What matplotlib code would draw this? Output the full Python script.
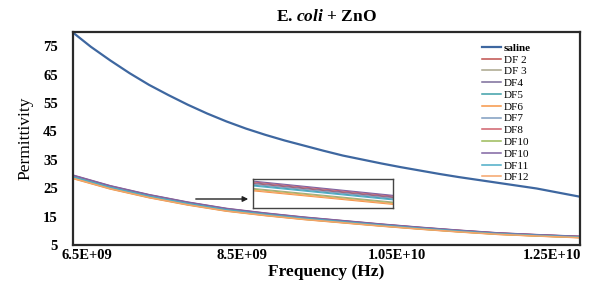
import matplotlib
matplotlib.use("Agg")
import matplotlib.pyplot as plt

# saline curve, read finely (GHz)
saline_ghz = [6.32, 6.55, 6.8, 7.05, 7.3, 7.55, 7.8, 8.05, 8.3, 8.55, 8.8, 9.05, 9.3, 9.55,
              9.8, 10.05, 10.3, 10.55, 10.8, 11.05, 11.3, 11.55, 11.8, 12.05, 12.3, 12.55, 12.86]
saline = [79.8, 74.8, 70.0, 65.5, 61.4, 57.8, 54.4, 51.3, 48.5, 46.0, 43.8, 41.8, 40.0, 38.2,
          36.5, 35.1, 33.7, 32.4, 31.2, 30.0, 28.9, 27.9, 26.9, 25.9, 24.9, 23.6, 22.0]

# DF curves (GHz)
freq_ghz = [6.32, 6.8, 7.3, 7.8, 8.3, 8.8, 9.3, 9.8, 10.3, 10.8, 11.3, 11.8, 12.3, 12.86]
df2 = [29.3, 25.59, 22.47, 19.86, 17.64, 16.03, 14.61, 13.40, 12.18, 11.07, 10.05, 9.14, 8.53, 7.92]
df3 = [28.7, 25.02, 21.93, 19.35, 17.16, 15.58, 14.19, 13.01, 11.82, 10.74, 9.75, 8.87, 8.27, 7.68]
df4 = [29.4, 25.68, 22.56, 19.94, 17.72, 16.10, 14.68, 13.46, 12.24, 11.12, 10.10, 9.18, 8.57, 7.96]
df5 = [29.1, 25.40, 22.29, 19.69, 17.48, 15.88, 14.47, 13.27, 12.06, 10.96, 9.95, 9.05, 8.44, 7.84]
df6 = [28.4, 24.73, 21.66, 19.09, 16.92, 15.35, 13.98, 12.81, 11.64, 10.57, 9.60, 8.73, 8.15, 7.56]
df7 = [29.2, 25.49, 22.38, 19.77, 17.56, 15.95, 14.54, 13.33, 12.12, 11.01, 10.00, 9.09, 8.48, 7.88]
df8 = [29.5, 25.78, 22.65, 20.03, 17.80, 16.18, 14.75, 13.53, 12.30, 11.18, 10.15, 9.23, 8.61, 8.00]
df10a = [28.6, 24.92, 21.84, 19.26, 17.08, 15.50, 14.12, 12.94, 11.76, 10.68, 9.70, 8.82, 8.23, 7.64]
df10b = [29.6, 25.87, 22.74, 20.11, 17.88, 16.25, 14.82, 13.59, 12.36, 11.23, 10.20, 9.27, 8.65, 8.04]
df11 = [29.0, 25.30, 22.20, 19.60, 17.40, 15.80, 14.40, 13.20, 12.00, 10.90, 9.90, 9.00, 8.40, 7.80]
df12 = [28.5, 24.83, 21.75, 19.18, 17.00, 15.43, 14.05, 12.88, 11.70, 10.63, 9.65, 8.78, 8.19, 7.60]

labels = ["saline", "DF 2", "DF 3", "DF4", "DF5", "DF6", "DF7", "DF8", "DF10", "DF10", "DF11", "DF12"]
df_series = [df2, df3, df4, df5, df6, df7, df8, df10a, df10b, df11, df12]
colors = ["#3E67A0", "#C0504D", "#A9A58C", "#7B6C9A", "#3D9FA8", "#F79646",
          "#7F9CC0", "#D0606B", "#9BBB59", "#8064A2", "#4BACC6", "#F5A46A"]

xticks = [6.5e9, 8.5e9, 1.05e10, 1.25e10]
xtick_labels = ["6.5E+09", "8.5E+09", "1.05E+10", "1.25E+10"]
yticks = [5, 15, 25, 35, 45, 55, 65, 75]

plt.rcParams['font.family'] = ['Liberation Serif', 'DejaVu Serif']
plt.rcParams['mathtext.fontset'] = 'custom'
plt.rcParams['mathtext.it'] = 'Liberation Serif:italic:bold'
plt.rcParams['mathtext.rm'] = 'Liberation Serif:bold'

freq = [f * 1e9 for f in freq_ghz]
freq_s = [f * 1e9 for f in saline_ghz]

fig = plt.figure(figsize=(6.11, 2.86), dpi=100)
ax = fig.add_axes([73/611, 1 - 245/286, 507/611, 213/286])

ax.plot(freq_s, saline, color=colors[0], lw=1.6, label=labels[0])
for vals, lab, col in zip(df_series, labels[1:], colors[1:]):
    ax.plot(freq, vals, color=col, lw=1.1, label=lab)

ax.set_xlim(freq[0], freq[-1])
ax.set_ylim(5, 80)
ax.set_xticks(xticks)
ax.set_xticklabels(xtick_labels, fontweight='bold', fontsize=10.5)
ax.set_yticks(yticks)
ax.set_yticklabels([str(v) for v in yticks], fontweight='bold', fontsize=10.5)
ax.tick_params(axis='both', length=0)
ax.tick_params(axis='y', pad=11)
ax.tick_params(axis='x', pad=3)
for sp in ax.spines.values():
    sp.set_linewidth(1.6)
    sp.set_color('#2a2a2a')

ax.set_xlabel("Frequency (Hz)", fontweight='bold', fontsize=12.5, labelpad=1)
ax.set_ylabel("Permittivity", fontsize=12.5, labelpad=7)
ax.set_title("E. $\\mathit{coli}$ + ZnO", fontweight='bold', fontsize=12.5, pad=8)

leg = ax.legend(loc='upper left', bbox_to_anchor=(482/611, 1 - 43/286),
                bbox_transform=fig.transFigure, frameon=False, fontsize=8,
                handlelength=1.7, handletextpad=0.25, labelspacing=0.18,
                borderpad=0, borderaxespad=0)
leg.get_texts()[0].set_fontweight('bold')

# zoomed inset of the DF curves
ins = fig.add_axes([253/611, 1 - 208/286, 140/611, 29/286])
for vals, col in zip(df_series, colors[1:]):
    ins.plot(freq, vals, color=col, lw=0.8)
ins.set_xlim(9.3e9, 9.8e9)
ins.set_ylim(12.5, 15.0)
ins.set_xticks([])
ins.set_yticks([])
for sp in ins.spines.values():
    sp.set_linewidth(1.0)
    sp.set_color('#444444')

fig.add_artist(matplotlib.patches.FancyArrowPatch(
    (193/611, 1 - 199/286), (251/611, 1 - 199/286),
    transform=fig.transFigure, arrowstyle='-|>', mutation_scale=8,
    color='#222222', lw=1.0))

fig.savefig("out.png", dpi=100)
